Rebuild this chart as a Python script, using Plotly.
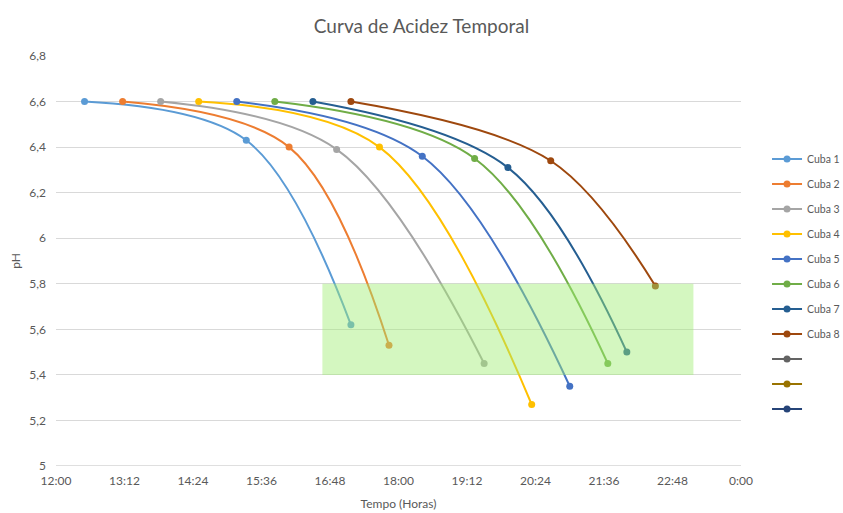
import plotly.graph_objects as go

# ---- data ----
series_names = ["Cuba 1", "Cuba 2", "Cuba 3", "Cuba 4", "Cuba 5", "Cuba 6", "Cuba 7", "Cuba 8"]
times = [
    ["12:30", "15:20", "17:10"],
    ["13:10", "16:05", "17:50"],
    ["13:50", "16:55", "19:30"],
    ["14:30", "17:40", "20:20"],
    ["15:10", "18:25", "21:00"],
    ["15:50", "19:20", "21:40"],
    ["16:30", "19:55", "22:00"],
    ["17:10", "20:40", "22:30"],
]
ph_values = [
    [6.60, 6.43, 5.62],
    [6.60, 6.40, 5.53],
    [6.60, 6.39, 5.45],
    [6.60, 6.40, 5.27],
    [6.60, 6.36, 5.35],
    [6.60, 6.35, 5.45],
    [6.60, 6.31, 5.50],
    [6.60, 6.34, 5.79],
]
colors = ["#5B9BD5", "#ED7D31", "#A5A5A5", "#FFC000", "#4472C4", "#70AD47", "#255E91", "#9E480E"]
extra_colors = ["#636363", "#997300", "#264478"]
band_time = ["16:40", "23:10"]
band_ph = [5.4, 5.8]
tick_labels = ["12:00", "13:12", "14:24", "15:36", "16:48", "18:00", "19:12", "20:24", "21:36", "22:48", "0:00"]


def to_hours(t):
    h, m = t.split(":")
    v = int(h) + int(m) / 60.0
    return v - 12 if v >= 12 else v + 12


tick_vals = [i * 1.2 for i in range(len(tick_labels))]

FONT = "Lato, 'Open Sans', sans-serif"
GREY = "#595959"

fig = go.Figure()
for i, name in enumerate(series_names):
    fig.add_trace(go.Scatter(
        x=[to_hours(t) for t in times[i]], y=ph_values[i], name=name,
        mode="lines+markers", line=dict(color=colors[i], width=2, shape="spline", smoothing=1.0),
        marker=dict(color=colors[i], size=7), legendgroup=f"g{i}",
    ))
for j, c in enumerate(extra_colors):
    fig.add_trace(go.Scatter(
        x=[0], y=[None], name=" ", mode="lines+markers",
        line=dict(color=c, width=2), marker=dict(color=c, size=7), legendgroup=f"e{j}",
    ))

fig.add_shape(type="rect", xref="x", yref="y",
              x0=to_hours(band_time[0]), x1=to_hours(band_time[1]),
              y0=band_ph[0], y1=band_ph[1],
              fillcolor="rgba(159,237,115,0.45)", line=dict(width=0), layer="above")

fig.update_layout(
    width=843, height=513,
    margin=dict(l=56, r=102, t=56, b=47, autoexpand=False),
    paper_bgcolor="white", plot_bgcolor="white",
    font=dict(family=FONT, color=GREY, size=12),
    title=dict(text="Curva de Acidez Temporal", x=0.5, xanchor="center", y=0.962, yanchor="top",
               xref="container", font=dict(size=19, color=GREY, family=FONT)),
    legend=dict(x=1.038, xanchor="left", y=0.784, yanchor="top", font=dict(size=10.5, color=GREY),
                traceorder="grouped", tracegroupgap=6, itemwidth=30, bgcolor="rgba(0,0,0,0)",
                borderwidth=0),
    showlegend=True,
)
fig.update_xaxes(range=[0, 12], tickvals=tick_vals, ticktext=tick_labels, showgrid=False,
                 zeroline=False, showline=False, ticks="", tickfont=dict(size=12, color=GREY),
                 ticklabelstandoff=6,
                 title=dict(text="Tempo (Horas)", font=dict(size=12, color=GREY), standoff=12))
fig.update_yaxes(range=[5, 6.8], tickvals=[5, 5.2, 5.4, 5.6, 5.8, 6, 6.2, 6.4, 6.6, 6.8],
                 ticktext=["5", "5,2", "5,4", "5,6", "5,8", "6", "6,2", "6,4", "6,6", "6,8"],
                 showgrid=True, gridcolor="#D9D9D9", gridwidth=1, zeroline=False, showline=False,
                 ticks="", tickfont=dict(size=12, color=GREY), ticklabelstandoff=9,
                 title=dict(text="pH", font=dict(size=12, color=GREY), standoff=6))
fig.add_shape(type="line", xref="paper", yref="y", x0=0, x1=1, y0=5, y1=5,
              line=dict(color="#BFBFBF", width=1), layer="below")

fig.write_html("out.html")
